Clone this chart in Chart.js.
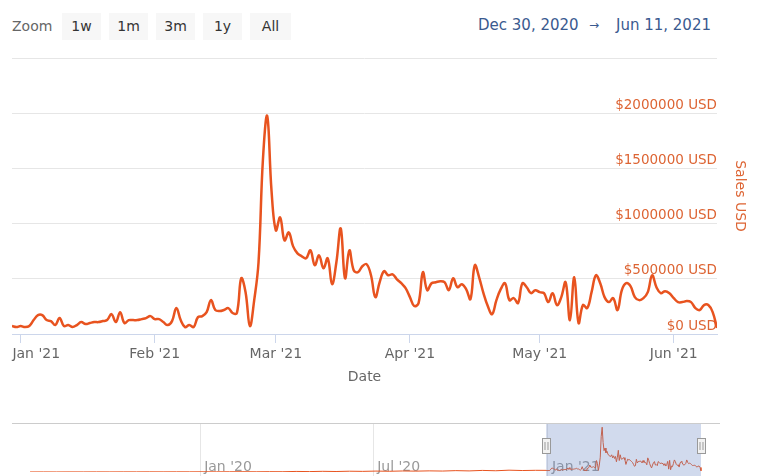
<!DOCTYPE html>
<html>
<head>
<meta charset="utf-8">
<script src="https://cdn.jsdelivr.net/npm/chart.js@4"></script>
<style>
  body { margin: 0; background: #fff; font-family: "DejaVu Sans", sans-serif; }
  #wrap { position: relative; width: 768px; height: 476px; overflow: hidden; }
  .lbl { position: absolute; color: #666; font-size: 14px; line-height: 20px; }
  .btn { position: absolute; top: 13px; height: 27px; width: 39px; background: #f7f7f7;
         color: #333; font-size: 14px; line-height: 27px; text-align: center; }
  .range { position: absolute; top: 15px; color: #3a5a8f; font-size: 15px; line-height: 20px; white-space: nowrap; }
  canvas { position: absolute; left: 0; }
</style>
</head>
<body>
<div id="wrap">
  <div class="lbl" style="left:12px;top:16px">Zoom</div>
  <div class="btn" style="left:62px">1w</div>
  <div class="btn" style="left:109px">1m</div>
  <div class="btn" style="left:156px">3m</div>
  <div class="btn" style="left:203px">1y</div>
  <div class="btn" style="left:250px;width:41px">All</div>
  <div class="range" style="left:478px">Dec 30, 2020</div>
  <div class="range" style="left:589px;font-size:12px">→</div>
  <div class="range" style="left:616px">Jun 11, 2021</div>
  <canvas id="main" width="768" height="341" style="top:50px"></canvas>
  <canvas id="nav" width="768" height="53" style="top:423px"></canvas>
</div>
<script>
// daily sales, day 0 = Dec 30 2020 ... day 163 = Jun 11 2021 (thousands USD)
const sales = [
  72, 63, 72, 63, 72, 126, 171, 171, 126, 117, 81, 144, 72, 81, 63, 81, 108, 90, 99, 108,
  108, 117, 126, 180, 108, 198, 99, 126, 126, 126, 135, 144, 162, 135, 135, 108, 81, 117, 235, 126,
  63, 81, 63, 153, 162, 198, 307, 217, 208, 217, 235, 190, 190, 505, 379, 72, 307, 650, 1570, 1976,
  1300, 939, 1056, 848, 920, 794, 731, 704, 686, 758, 623, 713, 596, 686, 451, 650, 957, 505, 758, 578,
  560, 614, 632, 532, 334, 469, 569, 532, 541, 496, 460, 415, 334, 253, 280, 560, 397, 460, 469, 478,
  469, 397, 505, 424, 451, 406, 316, 623, 514, 370, 253, 180, 307, 406, 460, 307, 325, 280, 460, 424,
  370, 397, 379, 370, 289, 370, 262, 334, 469, 126, 514, 99, 262, 235, 379, 532, 460, 334, 289, 325,
  217, 397, 460, 433, 334, 307, 325, 379, 532, 424, 370, 388, 370, 325, 289, 289, 298, 289, 235, 217,
  262, 262, 198, 54
];
// month ticks on the main axis (day index) and their labels
const monthDays = [2, 33, 61, 92, 122, 153];
const monthLabels = ["Jan '21", "Feb '21", "Mar '21", "Apr '21", "May '21", "Jun '21"];

// navigator history before the selected range (day index, thousands USD)
const earlyDays = [-543, -529, -515, -501, -487, -473, -459, -445, -431, -417, -403, -389, -375,
  -361, -347, -333, -319, -305, -291, -277, -263, -249, -235, -221, -207, -193, -179, -165,
  -151, -137, -123, -109, -95, -81, -67, -53, -39, -25, -11];
const earlySales = [2, 3, 2, 4, 3, 5, 4, 6, 5, 7, 6, 8, 7, 9, 8, 10, 12, 9, 14, 12, 25, 18, 30,
  22, 35, 28, 40, 32, 45, 38, 50, 42, 60, 48, 70, 55, 80, 65, 75];
const navTickDays = [-364, -182, 2];
const navTickLabels = ["Jan '20", "Jul '20", "Jan '21"];

const lineColor = '#e8531f';
const axisColor = '#dd6433';
Chart.defaults.font.family = "'DejaVu Sans', sans-serif";
Chart.defaults.animation = false;

const mainPoints = sales.map((v, i) => ({ x: i, y: v * 1000 }));

new Chart(document.getElementById('main'), {
  type: 'line',
  data: {
    datasets: [{
      data: mainPoints,
      borderColor: lineColor,
      borderWidth: 2.5,
      pointRadius: 0,
      tension: 0.4,
      fill: false
    }]
  },
  options: {
    responsive: false,
    devicePixelRatio: 1,
    layout: { padding: { left: 12, top: 7, right: 0, bottom: 0 } },
    plugins: { legend: { display: false }, tooltip: { enabled: false } },
    scales: {
      x: {
        type: 'linear',
        min: 0,
        max: sales.length - 1,
        afterBuildTicks: (scale) => { scale.ticks = monthDays.map(v => ({ value: v })) },
        afterFit: (scale) => { scale.paddingLeft = 0; scale.paddingRight = 0; scale.height = 57 },
        grid: { drawOnChartArea: false, drawTicks: true, tickLength: 9, color: '#ccd6eb' },
        border: { color: '#ccd6eb' },
        ticks: {
          autoSkip: false,
          maxRotation: 0,
          padding: 3,
          color: '#666',
          font: { size: 14 },
          callback: (v, i) => i === 0 ? '       ' + monthLabels[i] : monthLabels[i]
        },
        title: { display: true, text: 'Date', color: '#666', font: { size: 14 }, padding: { top: 0, bottom: 5 } }
      },
      y: {
        position: 'right',
        min: 0,
        max: 2500000,
        afterFit: (scale) => { scale.width = 51 },
        grid: { color: '#e6e6e6', drawTicks: false },
        border: { display: false },
        ticks: {
          stepSize: 500000,
          mirror: true,
          padding: 0,
          labelOffset: -8,
          color: axisColor,
          font: { size: 13.5 },
          callback: (v) => v >= 2500000 ? '' : '$' + v + ' USD'
        },
        title: { display: true, text: 'Sales USD', color: axisColor, font: { size: 14 }, padding: { top: 20, bottom: 0 } }
      }
    }
  }
});

// navigator: labels under the mask, then mask, outline and handles
const navPlugin = {
  id: 'navDecor',
  beforeDatasetsDraw(chart) {
    const { ctx, scales: { x } } = chart;
    ctx.save();
    ctx.fillStyle = '#999';
    ctx.font = "14px 'DejaVu Sans'";
    ctx.textBaseline = 'middle';
    navTickDays.forEach((d, i) => ctx.fillText(navTickLabels[i], x.getPixelForValue(d) + 4, 44));
    ctx.restore();
  },
  afterDatasetsDraw(chart) {
    const { ctx, chartArea, scales: { x } } = chart;
    const x0 = x.getPixelForValue(0);
    const x1 = x.getPixelForValue(sales.length - 1);
    ctx.save();
    ctx.fillStyle = 'rgba(102,133,194,0.3)';
    ctx.fillRect(x0, chartArea.top, x1 - x0, chart.height - chartArea.top);
    ctx.strokeStyle = '#cccccc';
    ctx.lineWidth = 1;
    ctx.beginPath();
    ctx.moveTo(chartArea.left, chartArea.top + 0.5);
    ctx.lineTo(chartArea.right, chartArea.top + 0.5);
    ctx.stroke();
    [x0, x1].forEach(hx => {
      const cx = Math.round(hx) + 0.5;
      ctx.fillStyle = '#f2f2f2';
      ctx.strokeStyle = '#999';
      ctx.fillRect(cx - 4, 15.5, 8, 15);
      ctx.strokeRect(cx - 4, 15.5, 8, 15);
      ctx.beginPath();
      ctx.moveTo(cx - 1.5, 19); ctx.lineTo(cx - 1.5, 27);
      ctx.moveTo(cx + 1.5, 19); ctx.lineTo(cx + 1.5, 27);
      ctx.stroke();
    });
    ctx.restore();
  }
};

const navPoints = earlyDays.map((d, i) => ({ x: d, y: earlySales[i] * 1000 })).concat(mainPoints);

new Chart(document.getElementById('nav'), {
  type: 'line',
  data: {
    datasets: [{
      data: navPoints,
      borderColor: lineColor,
      borderWidth: 1,
      pointRadius: 0,
      tension: 0,
      fill: false
    }]
  },
  options: {
    responsive: false,
    devicePixelRatio: 1,
    layout: { padding: { left: 12, top: 0, right: 48, bottom: 0 } },
    plugins: { legend: { display: false }, tooltip: { enabled: false } },
    scales: {
      x: {
        type: 'linear',
        min: -562,
        max: 183,
        afterBuildTicks: (scale) => { scale.ticks = navTickDays.map(v => ({ value: v })) },
        afterFit: (scale) => { scale.paddingLeft = 0; scale.paddingRight = 0; scale.height = 4 },
        grid: { color: '#e6e6e6', drawTicks: true, tickLength: 4 },
        border: { display: false },
        ticks: { display: false }
      },
      y: { display: false, min: 0, max: 2160000 }
    }
  },
  plugins: [navPlugin]
});
</script>
</body>
</html>
